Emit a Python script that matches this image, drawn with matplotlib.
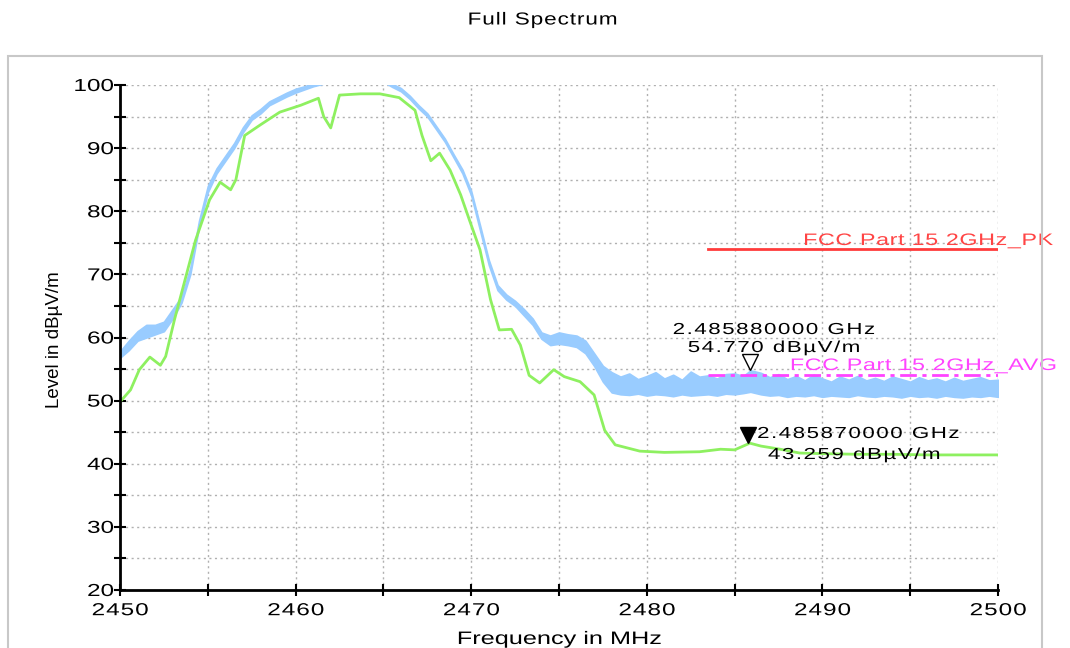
import matplotlib
matplotlib.use("Agg")
import matplotlib.pyplot as plt
import numpy as np
from matplotlib.patches import Rectangle
from matplotlib.patheffects import AbstractPathEffect
from matplotlib.path import Path

plt.rcParams["font.family"] = ["Liberation Sans", "DejaVu Sans"]

# ------------------------------
# data
# ------------------------------
# peak trace (blue) given as lower / upper edge of its noisy band
pk_freq = [2450.0, 2450.5, 2451.0, 2451.5, 2452.0, 2452.5, 2453.0, 2453.5,
           2454.0, 2454.5, 2455.0, 2455.5, 2456.0, 2456.5, 2457.0, 2457.5,
           2458.0, 2458.5, 2459.0, 2459.5, 2460.0, 2460.5, 2461.0, 2462.0,
           2465.0, 2465.5, 2466.0, 2466.5, 2467.0, 2467.5, 2468.0, 2468.5,
           2469.0, 2469.5, 2470.0, 2470.5, 2471.0, 2471.5, 2472.0, 2472.5,
           2473.0, 2473.5, 2474.0, 2474.5, 2475.0, 2475.5, 2476.0, 2476.5,
           2477.0, 2477.5, 2478.0, 2478.5, 2479.0, 2479.5, 2480.0, 2480.5,
           2481.0, 2481.5, 2482.0, 2482.5, 2483.0, 2483.5, 2484.0, 2484.5,
           2485.0, 2485.5, 2485.9, 2486.5, 2487.0, 2487.5, 2488.0, 2488.5,
           2489.0, 2489.5, 2490.0, 2490.5, 2491.0, 2491.5, 2492.0, 2492.5,
           2493.0, 2493.5, 2494.0, 2494.5, 2495.0, 2495.5, 2496.0, 2496.5,
           2497.0, 2497.5, 2498.0, 2498.5, 2499.0, 2499.5, 2500.0]
pk_lo = [56.8, 58.0, 59.5, 60.0, 60.5, 61.0, 63.0, 65.5,
         70.0, 77.5, 83.0, 86.0, 88.0, 90.0, 92.5, 94.5,
         95.5, 96.8, 97.5, 98.2, 98.8, 99.3, 99.8, 100.5,
         100.5, 99.7, 99.0, 97.8, 96.3, 95.0, 93.0, 91.0,
         88.5, 86.0, 82.5, 77.0, 71.5, 67.5, 66.0, 65.0,
         63.5, 62.0, 59.8, 58.8, 59.0, 58.8, 58.5, 57.5,
         55.5, 53.0, 51.3, 51.0, 50.9, 51.1, 50.8, 51.0,
         50.9, 50.7, 51.0, 50.8, 50.9, 51.0, 50.8, 51.1,
         51.0, 51.2, 51.4, 51.0, 50.8, 50.9, 50.6, 50.8,
         50.7, 50.9, 50.6, 50.8, 50.7, 50.6, 50.9, 50.7,
         50.6, 50.8, 50.7, 50.5, 50.8, 50.6, 50.7, 50.5,
         50.8, 50.6, 50.5, 50.7, 50.6, 50.8, 50.6]
pk_hi = [57.8, 59.5, 61.0, 62.0, 62.0, 62.5, 64.5, 66.5,
         71.0, 78.5, 84.0, 86.8, 88.8, 90.8, 93.3, 95.2,
         96.2, 97.4, 98.1, 98.8, 99.4, 99.8, 100.3, 101.0,
         101.0, 100.2, 99.5, 98.3, 96.8, 95.5, 93.5, 91.5,
         89.0, 86.6, 83.2, 77.8, 72.3, 68.3, 66.8, 65.8,
         64.5, 63.0, 60.8, 60.3, 60.8, 60.5, 60.3, 59.5,
         57.5, 55.5, 54.5, 53.8, 54.3, 53.4, 53.9, 54.5,
         53.5, 54.1, 53.3, 54.6, 53.8, 54.0, 53.5, 54.2,
         54.3, 53.9, 54.8, 54.4, 53.7, 54.2, 53.4, 53.9,
         53.2, 54.1, 53.5, 53.0, 53.8, 53.3, 53.9, 53.2,
         53.6, 53.1, 53.8, 53.4, 53.0, 53.7, 53.2, 53.5,
         53.0, 53.6, 53.1, 53.4, 53.7, 53.2, 53.3]

# average trace (green)
av_freq = [2450.0, 2450.6, 2451.1, 2451.7, 2452.3, 2452.6, 2453.1, 2453.7,
           2454.3, 2455.1, 2455.7, 2456.3, 2456.6, 2457.1, 2458.0, 2459.1,
           2460.3, 2461.3, 2461.6, 2462.0, 2462.5, 2463.7, 2464.8, 2465.9,
           2466.8, 2467.2, 2467.7, 2468.2, 2468.8, 2469.4, 2469.9, 2470.5,
           2471.1, 2471.6, 2472.3, 2472.8, 2473.3, 2473.9, 2474.7, 2475.3,
           2476.2, 2477.0, 2477.6, 2478.2, 2479.6, 2481.0, 2483.0, 2484.2,
           2485.0, 2485.87, 2486.5, 2487.6, 2488.7, 2490.0, 2492.0, 2494.0,
           2496.0, 2498.0, 2500.0]
av_lvl = [49.8, 51.7, 54.9, 56.9, 55.6, 57.0, 62.8, 69.1,
          75.4, 81.8, 84.6, 83.4, 85.0, 92.0, 93.7, 95.7,
          96.8, 97.9, 95.0, 93.2, 98.4, 98.6, 98.6, 98.0,
          96.0, 92.0, 88.0, 89.2, 86.5, 82.6, 78.6, 73.9,
          66.0, 61.2, 61.3, 58.8, 54.0, 52.8, 54.9, 53.8,
          53.0, 50.9, 45.3, 43.0, 42.0, 41.8, 41.9, 42.3,
          42.2, 43.26, 42.8, 42.3, 41.7, 41.6, 41.5, 41.5,
          41.4, 41.4, 41.4]

# limit lines
lim_freq = [2483.5, 2500.0]
lim_pk = [74.0, 74.0]
lim_av = [54.0, 54.0]

# markers
mk_pk = (2485.88, 54.770)
mk_av = (2485.87, 43.259)

x_ticks = [2450, 2460, 2470, 2480, 2490, 2500]
y_ticks = [20, 30, 40, 50, 60, 70, 80, 90, 100]


# the analyser software prints text horizontally stretched and a bit
# spaced out; imitate that on the glyph outlines
class Wide(AbstractPathEffect):
    def __init__(self, sx=1.4, track=0.0, anchor="left"):
        super().__init__()
        self.sx = sx
        self.track = track
        self.anchor = anchor

    def draw_path(self, renderer, gc, tpath, affine, rgbFace=None):
        codes = tpath.codes
        if codes is None or len(tpath.vertices) == 0:
            renderer.draw_path(gc, tpath, affine, rgbFace)
            return
        v = np.array(tpath.vertices, dtype=float)
        m = affine.get_matrix()
        scale = np.hypot(m[0, 0], m[1, 0])
        t = self.track / scale
        starts = list(np.nonzero(codes == Path.MOVETO)[0]) + [len(codes)]
        pieces = []
        for s, e in zip(starts[:-1], starts[1:]):
            xs = v[s:e, 0]
            pieces.append([xs.min(), xs.max(), s, e])
        pieces.sort(key=lambda p: p[0])
        idx = -1
        gmin = gmax = None
        groups = []
        for p in pieces:
            cx = 0.5 * (p[0] + p[1])
            if gmin is not None and gmin <= cx <= gmax:
                gmax = max(gmax, p[1])
            else:
                if gmax is not None and p[0] - gmax > 30:
                    idx += 1
                idx += 1
                gmin, gmax = p[0], p[1]
            groups.append((p[2], p[3], idx))
        x0, x1 = v[:, 0].min(), v[:, 0].max()
        pivot = {"left": x0, "center": 0.5 * (x0 + x1), "right": x1}[self.anchor]
        total = idx * t
        off = {"left": 0, "center": -total / 2, "right": -total}[self.anchor]
        new = v.copy()
        new[:, 0] = pivot + (v[:, 0] - pivot) * self.sx + off
        for s, e, i in groups:
            new[s:e, 0] += i * t
        renderer.draw_path(gc, Path(new, codes), affine, rgbFace)


# ------------------------------
# figure
# ------------------------------
fig = plt.figure(figsize=(10.7, 6.48), dpi=100)
fig.patch.set_facecolor("white")
fig.patches.append(Rectangle((8 / 1070, -0.05), 1034 / 1070, 0.05 + 592 / 648,
                             transform=fig.transFigure, fill=False,
                             edgecolor="#c8c8c8", linewidth=1.5))
ax = fig.add_axes([120 / 1070, 1 - 590 / 648, 878 / 1070, 505 / 648])

ax.fill_between(pk_freq, pk_lo, pk_hi, color="#99ccff", linewidth=1.2,
                edgecolor="#99ccff", zorder=3)
ax.plot(av_freq, av_lvl, color="#8ef060", linewidth=2, zorder=4)

ax.plot(lim_freq, lim_pk, color="#ff3b3b", linewidth=2, zorder=5)
ax.plot(lim_freq, lim_av, color="#ff44ff", linewidth=2,
        linestyle=(0, (6, 2, 1.5, 2)), zorder=5)
ax.text(2488.9, 74.65, "FCC Part 15 2GHz_PK", color="#ff4444", fontsize=12,
        ha="left", va="baseline", clip_on=False, zorder=6,
        path_effects=[Wide(1.4, 0.6)])
ax.text(2488.15, 54.85, "FCC Part 15 2GHz_AVG", color="#ff44ff", fontsize=12,
        ha="left", va="baseline", clip_on=False, zorder=6,
        path_effects=[Wide(1.4, 0.6)])

# marker symbols
ax.plot(mk_pk[0], mk_pk[1] + 1.3, marker="v", markersize=12,
        markerfacecolor="white", markeredgecolor="black", zorder=7)
ax.text(mk_pk[0] + 1.36, 60.55, "2.485880000 GHz", fontsize=11.5,
        ha="center", va="baseline", zorder=7,
        path_effects=[Wide(1.4, 1.5, "center")])
ax.text(mk_pk[0] + 1.36, 57.7, "54.770 dBµV/m", fontsize=11.5,
        ha="center", va="baseline", zorder=7,
        path_effects=[Wide(1.4, 1.5, "center")])
ax.plot(mk_av[0] - 0.1, mk_av[1] + 1.3, marker="v", markersize=12,
        color="black", zorder=7)
ax.text(2486.28, 44.08, "2.485870000 GHz", fontsize=11.5,
        ha="left", va="baseline", zorder=7, path_effects=[Wide(1.4, 1.5)])
ax.text(2486.9, 40.75, "43.259 dBµV/m", fontsize=11.5,
        ha="left", va="baseline", zorder=7, path_effects=[Wide(1.4, 1.5)])

# axes styling
ax.set_xlim(2450, 2500)
ax.set_ylim(20, 100)
ax.set_xticks(x_ticks)
ax.set_yticks(y_ticks)
ax.set_xticks(np.arange(2455, 2500, 10), minor=True)
ax.set_yticks(np.arange(25, 100, 10), minor=True)
ax.tick_params(which="both", direction="inout", length=9, width=1.5,
               labelsize=12.5, colors="black")
ax.tick_params(axis="x", pad=5)
ax.tick_params(axis="y", pad=0)
for lbl in ax.get_xticklabels():
    lbl.set_path_effects([Wide(1.4, 1.0, "center")])
for lbl in ax.get_yticklabels():
    lbl.set_path_effects([Wide(1.4, 0.0, "right")])
ax.grid(which="both", color="#b0b0b0", linestyle=(0, (1.5, 2.5)), linewidth=1)
ax.set_axisbelow(True)
for side in ["top", "right"]:
    ax.spines[side].set_visible(False)
for side in ["left", "bottom"]:
    ax.spines[side].set_linewidth(2)
    ax.spines[side].set_zorder(8)

xl = ax.set_xlabel("Frequency in MHz", fontsize=13, va="baseline")
xl.set_path_effects([Wide(1.4, 0.0, "center")])
ax.xaxis.set_label_coords(0.5, -54 / 505)
ax.set_ylabel("Level in dBµV/m", fontsize=13.5)
ax.yaxis.set_label_coords(-57 / 878, 0.495)
fig.text(0.507, 1 - 20 / 648, "Full Spectrum", ha="center", va="center",
         fontsize=12.5, path_effects=[Wide(1.3, 0.9, "center")])

fig.savefig("out.png", dpi=100)
